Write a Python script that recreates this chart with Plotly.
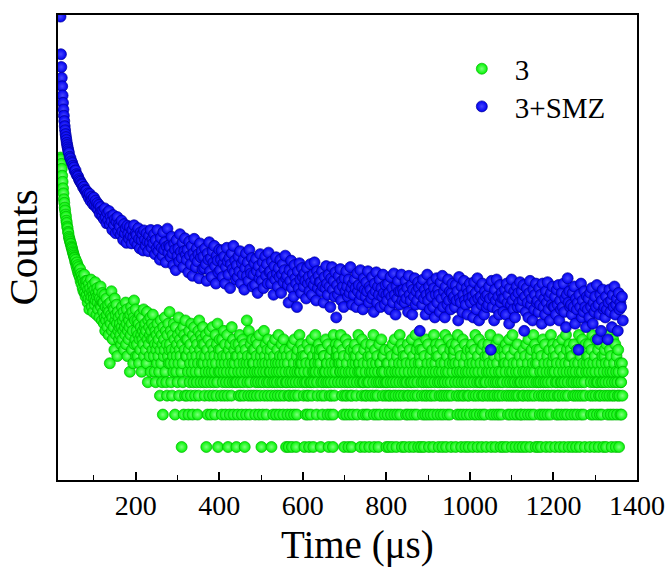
import plotly.graph_objects as go

# ---- time grids (µs) ----
# series "3": one reading per µs
time_3 = list(range(20, 1367))
# series "3+SMZ": 1 µs steps in the fast decay, then every 2 µs
time_3_smz = list(range(20, 41)) + list(range(42, 1367, 2))

# ---- series "3" (green), counts ----
counts_3 = [
    # 20-41
    490, 472, 428, 385, 332, 292, 254, 228, 201, 186, 168, 158, 145, 138, 127, 121, 112, 108, 100, 97, 90, 87,
    # 42-81
    84, 81, 78, 77, 73, 71, 69, 66, 64, 62, 60, 58, 57, 53, 55, 51, 48, 52, 45, 49, 42, 47, 40, 44, 38, 45, 35, 41, 33, 39, 36, 30, 37, 28, 34, 40, 27, 32, 25, 35,
    # 82-121
    31, 26, 35, 22, 29, 24, 33, 19, 27, 30, 23, 36, 25, 20, 28, 32, 18, 26, 24, 29, 21, 34, 23, 27, 17, 25, 30, 22, 19, 26, 28, 16, 24, 21, 31, 20, 23, 15, 27, 22,
    # 122-161
    18, 22, 14, 26, 16, 12, 20, 15, 24, 17, 13, 19, 21, 11, 18, 15, 6, 22, 14, 17, 28, 12, 16, 10, 20, 13, 19, 8, 24, 15, 17, 11, 21, 14, 7, 18, 12, 16, 10, 13,
    # 162-201
    14, 11, 17, 9, 13, 20, 10, 15, 12, 18, 8, 16, 13, 11, 22, 9, 14, 19, 7, 12, 16, 10, 15, 13, 5, 17, 11, 20, 14, 8, 18, 12, 6, 16, 23, 9, 15, 10, 19, 7,
    # 202-241
    12, 9, 15, 7, 11, 14, 6, 10, 17, 8, 13, 11, 5, 16, 10, 12, 9, 19, 7, 13, 11, 14, 8, 12, 6, 18, 10, 4, 15, 9, 13, 7, 11, 16, 5, 12, 10, 14, 8, 17,
    # 242-281
    10, 7, 13, 5, 9, 12, 4, 8, 11, 6, 14, 9, 7, 10, 5, 12, 3, 8, 15, 6, 11, 4, 9, 2, 13, 7, 10, 8, 16, 5, 12, 4, 9, 3, 11, 7, 14, 6, 8, 18,
    # 282-321
    9, 6, 12, 4, 8, 3, 11, 7, 5, 14, 6, 10, 2, 8, 13, 5, 7, 9, 4, 11, 6, 16, 3, 8, 10, 7, 12, 5, 1, 9, 6, 4, 13, 2, 11, 8, 3, 15, 7, 10,
    # 322-361
    7, 3, 10, 5, 2, 8, 12, 4, 6, 9, 3, 14, 5, 7, 2, 11, 4, 6, 13, 8, 3, 5, 10, 7, 4, 9, 2, 6, 12, 3, 15, 5, 8, 4, 11, 7, 6, 10, 9, 13,
    # 362-401
    6, 4, 9, 3, 7, 5, 11, 1, 4, 8, 2, 6, 10, 5, 3, 12, 7, 4, 2, 9, 5, 6, 13, 3, 8, 4, 7, 5, 2, 11, 6, 3, 9, 4, 14, 1, 5, 8, 7, 10,
    # 402-441
    5, 8, 3, 6, 2, 10, 4, 7, 5, 12, 3, 6, 9, 2, 4, 7, 5, 11, 3, 1, 6, 8, 4, 2, 9, 5, 7, 3, 13, 6, 4, 10, 2, 5, 8, 6, 4, 9, 7, 1,
    # 442-481
    4, 7, 2, 5, 9, 3, 6, 11, 4, 8, 3, 5, 2, 7, 10, 4, 6, 3, 9, 1, 5, 8, 2, 6, 15, 4, 7, 3, 5, 12, 6, 2, 4, 9, 3, 7, 5, 10, 6, 8,
    # 482-521
    6, 3, 8, 5, 2, 4, 10, 7, 3, 5, 9, 4, 6, 2, 11, 5, 3, 7, 4, 1, 8, 6, 2, 5, 4, 12, 3, 7, 6, 9, 5, 2, 4, 8, 3, 10, 6, 4, 5, 7,
    # 522-561
    5, 8, 3, 1, 6, 4, 9, 2, 5, 7, 4, 3, 10, 6, 2, 5, 4, 8, 3, 6, 11, 5, 2, 7, 4, 3, 6, 9, 5, 4, 7, 2, 10, 3, 6, 8, 5, 4, 1, 7,
    # 562-601
    4, 2, 6, 3, 1, 5, 8, 3, 4, 2, 7, 5, 1, 9, 4, 3, 6, 2, 10, 5, 3, 4, 1, 7, 2, 5, 8, 3, 6, 4, 11, 5, 5, 6, 9, 7, 6, 4, 8, 7,
    # 602-641
    3, 5, 1, 4, 7, 2, 6, 4, 3, 9, 2, 5, 3, 1, 8, 4, 6, 2, 4, 10, 3, 5, 7, 1, 4, 5, 6, 6, 11, 5, 8, 2, 4, 3, 7, 6, 9, 5, 7, 8,
    # 642-681
    6, 1, 4, 3, 8, 2, 5, 4, 7, 7, 3, 5, 5, 10, 4, 6, 6, 2, 9, 4, 1, 5, 3, 7, 2, 4, 6, 3, 8, 5, 1, 2, 11, 4, 3, 6, 5, 9, 7, 8,
    # 682-721
    7, 8, 4, 6, 7, 9, 6, 5, 5, 11, 4, 6, 3, 8, 5, 2, 7, 1, 4, 3, 5, 10, 2, 6, 3, 4, 9, 1, 5, 7, 2, 4, 3, 8, 5, 1, 3, 6, 2, 4,
    # 722-761
    8, 7, 5, 9, 6, 7, 3, 4, 2, 8, 5, 11, 6, 6, 5, 4, 1, 7, 5, 3, 10, 4, 2, 6, 4, 8, 1, 3, 5, 2, 9, 3, 4, 6, 2, 7, 4, 1, 5, 3,
    # 762-801
    8, 7, 9, 5, 6, 3, 4, 11, 2, 1, 5, 8, 3, 6, 4, 2, 7, 3, 5, 1, 4, 9, 2, 6, 6, 4, 10, 5, 5, 3, 7, 7, 4, 5, 2, 8, 3, 4, 1, 6,
    # 802-841
    4, 2, 6, 3, 1, 5, 8, 3, 4, 2, 7, 5, 1, 9, 4, 3, 6, 2, 10, 5, 3, 4, 1, 7, 2, 5, 8, 3, 6, 4, 11, 2, 5, 3, 9, 1, 6, 4, 8, 7,
    # 842-881
    3, 5, 1, 4, 7, 2, 6, 4, 3, 9, 2, 5, 3, 1, 8, 4, 6, 2, 4, 10, 3, 5, 7, 1, 4, 2, 6, 3, 11, 5, 8, 2, 4, 3, 1, 6, 9, 5, 7, 8,
    # 882-921
    6, 1, 4, 3, 8, 2, 5, 4, 1, 7, 3, 2, 5, 10, 4, 3, 6, 2, 9, 4, 1, 5, 3, 7, 2, 4, 6, 3, 8, 5, 1, 2, 11, 4, 3, 6, 5, 9, 7, 8,
    # 922-961
    2, 4, 7, 1, 5, 3, 4, 9, 2, 6, 3, 5, 1, 4, 8, 2, 3, 6, 4, 11, 5, 1, 3, 7, 2, 4, 5, 10, 3, 6, 2, 8, 4, 1, 3, 9, 5, 6, 7, 8,
    # 962-1001
    7, 8, 4, 6, 1, 9, 3, 5, 2, 11, 4, 6, 3, 8, 5, 2, 7, 1, 4, 3, 5, 10, 2, 6, 3, 4, 9, 1, 5, 7, 2, 4, 3, 8, 5, 1, 3, 6, 2, 4,
    # 1002-1041
    8, 7, 5, 9, 6, 1, 3, 4, 2, 8, 5, 11, 3, 6, 2, 4, 1, 7, 5, 3, 10, 4, 2, 6, 4, 8, 1, 3, 5, 2, 9, 3, 4, 6, 2, 7, 4, 1, 5, 3,
    # 1042-1081
    8, 7, 9, 5, 6, 3, 4, 11, 2, 1, 5, 8, 3, 6, 4, 2, 7, 3, 5, 1, 4, 9, 2, 6, 3, 4, 10, 5, 2, 3, 7, 1, 4, 5, 2, 8, 3, 4, 1, 6,
    # 1082-1121
    8, 7, 6, 5, 9, 3, 1, 4, 8, 2, 6, 3, 10, 5, 4, 2, 7, 3, 1, 5, 11, 4, 6, 3, 2, 8, 4, 1, 5, 3, 6, 2, 9, 4, 3, 5, 1, 7, 4, 2,
    # 1122-1161
    4, 2, 6, 3, 1, 5, 8, 3, 4, 2, 7, 5, 1, 9, 4, 3, 6, 2, 10, 5, 3, 4, 1, 7, 2, 5, 8, 3, 6, 4, 11, 2, 5, 3, 9, 1, 6, 4, 8, 7,
    # 1162-1201
    6, 1, 4, 3, 8, 2, 5, 4, 1, 7, 3, 2, 5, 10, 4, 3, 6, 2, 9, 4, 1, 5, 3, 7, 2, 4, 6, 3, 8, 5, 1, 2, 11, 4, 3, 6, 5, 9, 7, 8,
    # 1202-1241
    3, 5, 1, 4, 7, 2, 6, 4, 3, 9, 2, 5, 3, 1, 8, 4, 6, 2, 4, 10, 3, 5, 7, 1, 4, 2, 6, 3, 11, 5, 8, 2, 4, 3, 1, 6, 9, 5, 7, 8,
    # 1242-1281
    2, 4, 7, 1, 5, 3, 4, 9, 2, 6, 3, 5, 1, 4, 8, 2, 3, 6, 4, 11, 5, 1, 3, 7, 2, 4, 5, 10, 3, 6, 2, 8, 4, 1, 3, 9, 5, 6, 7, 8,
    # 1282-1321
    8, 7, 5, 9, 6, 1, 3, 4, 2, 8, 5, 11, 3, 6, 2, 4, 1, 7, 5, 3, 10, 4, 2, 6, 4, 8, 1, 3, 5, 2, 9, 3, 4, 6, 2, 7, 4, 1, 5, 3,
    # 1322-1361
    7, 8, 4, 6, 1, 9, 3, 5, 2, 11, 4, 6, 3, 8, 5, 2, 7, 1, 4, 3, 5, 10, 2, 6, 3, 4, 9, 1, 5, 7, 2, 4, 3, 8, 5, 1, 3, 6, 2, 4,
    # 1362-1366
    4, 2, 6, 3, 5,
]

# ---- series "3+SMZ" (blue) ----
counts_3_smz = [
    10000, 4470, 3400, 2700, 2250, 1850, 1580, 1370, 1200, 1070, 960, 880, 810, 760, 715, 672, 640, 610, 584, 560, 540,
    498, 481, 452, 436, 411, 396, 369, 372, 344, 333, 327, 309, 298, 291, 280, 275, 259, 262, 246, 238,
    241, 221, 228, 206, 225, 193, 212, 199, 180, 208, 176, 195, 168, 185, 160, 178, 147, 170, 155, 139,
    158, 131, 165, 137, 120, 150, 128, 156, 117, 139, 125, 104, 143, 116, 131, 97, 124, 137, 101, 118,
    112, 94, 127, 101, 84, 118, 97, 108, 79, 114, 96, 86, 111, 92, 78, 104, 89, 115, 81, 97,
    93, 76, 108, 86, 70, 99, 84, 95, 67, 103, 85, 74, 97, 81, 66, 92, 79, 104, 71, 86,
    78, 95, 62, 84, 70, 104, 66, 76, 55, 88, 71, 60, 99, 68, 80, 52, 73, 107, 64, 75,
    72, 58, 90, 63, 49, 77, 68, 44, 84, 60, 70, 53, 95, 65, 57, 79, 47, 66, 87, 61,
    55, 68, 42, 81, 60, 50, 74, 39, 63, 86, 57, 47, 70, 53, 62, 37, 78, 58, 66, 45,
    59, 46, 70, 50, 35, 63, 55, 80, 43, 57, 38, 66, 52, 74, 48, 33, 60, 54, 42, 68,
    44, 55, 67, 38, 51, 59, 33, 47, 71, 53, 40, 57, 30, 50, 63, 45, 74, 42, 54, 36,
    49, 38, 59, 43, 66, 33, 51, 40, 55, 29, 46, 63, 39, 52, 35, 68, 45, 41, 57, 31,
    40, 51, 32, 56, 43, 27, 48, 37, 62, 41, 35, 52, 30, 45, 59, 39, 50, 33, 64, 42,
    43, 33, 53, 39, 26, 48, 36, 58, 41, 31, 46, 38, 55, 27, 40, 50, 34, 44, 60, 37,
    39, 32, 22, 44, 35, 54, 30, 41, 25, 49, 37, 33, 20, 43, 30, 51, 36, 27, 46, 38,
    31, 41, 35, 24, 46, 33, 38, 28, 50, 34, 26, 40, 32, 52, 36, 23, 43, 30, 39, 34,
    34, 28, 43, 31, 22, 38, 30, 48, 33, 26, 40, 31, 20, 37, 47, 29, 35, 25, 42, 16,
    32, 26, 39, 29, 45, 23, 35, 31, 20, 37, 28, 43, 31, 25, 36, 27, 47, 30, 21, 33,
    26, 36, 30, 20, 41, 28, 32, 23, 44, 26, 31, 19, 37, 29, 25, 34, 28, 43, 22, 31,
    29, 24, 38, 26, 18, 33, 28, 42, 22, 31, 26, 36, 20, 30, 25, 40, 27, 21, 32, 26,
    23, 33, 27, 19, 38, 25, 30, 22, 41, 26, 17, 31, 24, 35, 28, 21, 28, 40, 23, 29,
    27, 22, 35, 24, 30, 18, 39, 26, 23, 32, 17, 29, 25, 37, 21, 28, 23, 34, 30, 12,
    26, 32, 21, 36, 24, 29, 17, 26, 40, 23, 31, 19, 27, 25, 34, 20, 30, 16, 26, 37,
    22, 29, 26, 18, 34, 24, 39, 20, 28, 16, 31, 25, 21, 36, 23, 28, 19, 27, 33, 24,
    25, 20, 32, 23, 28, 15, 38, 24, 22, 31, 18, 26, 35, 23, 21, 30, 17, 27, 24, 33,
    22, 29, 25, 16, 34, 23, 27, 19, 37, 24, 15, 30, 25, 21, 33, 23, 17, 28, 25, 20,
    26, 21, 31, 24, 8, 35, 20, 25, 15, 29, 23, 36, 19, 25, 17, 32, 22, 27, 24, 18,
    24, 29, 17, 33, 22, 26, 14, 30, 21, 36, 23, 19, 28, 16, 25, 31, 20, 27, 22, 34,
    20, 28, 23, 32, 12, 25, 18, 30, 22, 16, 27, 35, 21, 24, 15, 29, 19, 26, 33, 22,
    23, 18, 30, 21, 26, 14, 33, 20, 24, 17, 28, 22, 34, 19, 25, 15, 27, 21, 31, 20,
    20, 25, 17, 29, 21, 32, 15, 23, 19, 27, 20, 33, 18, 24, 13, 26, 37, 22, 28, 20,
    21, 17, 27, 20, 31, 14, 24, 19, 22, 8, 26, 20, 33, 16, 23, 18, 28, 20, 13, 25,
    19, 24, 16, 27, 20, 30, 14, 22, 18, 25, 20, 32, 10, 21, 17, 26, 12, 23, 29, 19,
    20, 16, 25, 19, 10, 22, 29, 18, 23, 13, 26, 20, 31, 17, 21, 24, 12, 27, 19, 22,
    20, 25, 15,
]

series_names = ["3", "3+SMZ"]
x_tick_values = [200, 400, 600, 800, 1000, 1200, 1400]
x_tick_labels = ["200", "400", "600", "800", "1000", "1200", "1400"]
x_title = "Time (μs)"
y_title = "Counts"

assert len(counts_3) == len(time_3), (len(counts_3), len(time_3))
assert len(counts_3_smz) == len(time_3_smz), (len(counts_3_smz), len(time_3_smz))

SERIF = "Liberation Serif, Times New Roman, serif"

fig = go.Figure()
fig.add_trace(go.Scatter(
    x=time_3, y=counts_3, mode="markers", name=series_names[0], legend="legend",
    marker=dict(size=11, color="#00f400", line=dict(width=0.7, color="#00b800"),
                gradient=dict(type="radial", color="#7dff7d")),
))
fig.add_trace(go.Scatter(
    x=time_3_smz, y=counts_3_smz, mode="markers", name=series_names[1], legend="legend2",
    marker=dict(size=11, color="#0000f0", line=dict(width=0.7, color="#00009a"),
                gradient=dict(type="radial", color="#4646ff")),
))

legend_style = dict(xanchor="left", yanchor="top", itemwidth=56,
                    font=dict(size=29, family=SERIF, color="black"),
                    bgcolor="rgba(0,0,0,0)", borderwidth=0)

fig.update_layout(
    width=671, height=568,
    margin=dict(l=58, r=34, t=15, b=88),
    paper_bgcolor="white", plot_bgcolor="white",
    font=dict(family=SERIF, color="black"),
    showlegend=True,
    legend=dict(x=0.675, y=0.939, **legend_style),
    legend2=dict(x=0.675, y=0.858, **legend_style),
    annotations=[dict(text=x_title, xref="paper", yref="paper", x=0.5173, y=-0.1394,
                      xanchor="center", yanchor="middle", showarrow=False,
                      font=dict(size=39, family=SERIF, color="black"))],
)
fig.update_xaxes(
    range=[14, 1400],
    tickvals=x_tick_values, ticktext=x_tick_labels,
    ticks="inside", ticklen=8, tickwidth=1.5, tickcolor="black",
    minor=dict(dtick=100, tick0=0, ticks="inside", ticklen=5, tickwidth=1.2, tickcolor="black"),
    showline=True, linecolor="black", linewidth=1.5, mirror=True,
    showgrid=False, zeroline=False,
    tickfont=dict(size=28, family=SERIF, color="black"),
    automargin=False,
)
fig.update_yaxes(
    type="log", range=[-0.307, 4.015],
    showticklabels=False, ticks="",
    showline=True, linecolor="black", linewidth=1.5, mirror=True,
    showgrid=False, zeroline=False,
    title=dict(text=y_title, font=dict(size=41, family=SERIF, color="black"), standoff=12),
    automargin=False,
)

fig.write_html("out.html")
